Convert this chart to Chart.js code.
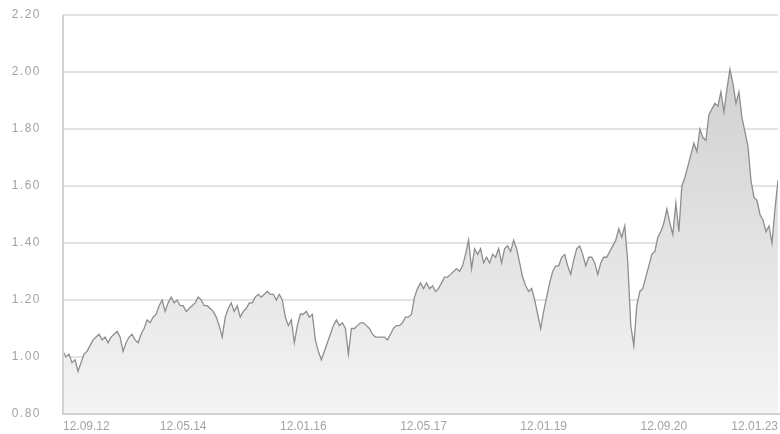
<!DOCTYPE html>
<html>
<head>
<meta charset="utf-8">
<title>Kursverlauf</title>
<script src="https://cdn.jsdelivr.net/npm/chart.js@4.4.1/dist/chart.umd.min.js"></script>
<style>
  html, body { margin: 0; padding: 0; background: #ffffff; overflow: hidden; }
  #wrap { width: 780px; height: 434px; }
</style>
</head>
<body>
<div id="wrap"><canvas id="chart" width="780" height="434"></canvas></div>
<script>
// Closing values, one per session step
const closes = [
  1.02, 1.00, 1.01, 0.98, 0.99, 0.95, 0.98, 1.01, 1.02, 1.04,
  1.06, 1.07, 1.08, 1.06, 1.07, 1.05, 1.07, 1.08, 1.09, 1.07,
  1.02, 1.05, 1.07, 1.08, 1.06, 1.05, 1.08, 1.10, 1.13, 1.12,
  1.14, 1.15, 1.18, 1.20, 1.16, 1.19, 1.21, 1.19, 1.20, 1.18,
  1.18, 1.16, 1.17, 1.18, 1.19, 1.21, 1.20, 1.18, 1.18, 1.17,
  1.16, 1.14, 1.11, 1.07, 1.14, 1.17, 1.19, 1.16, 1.18, 1.14,
  1.16, 1.17, 1.19, 1.19, 1.21, 1.22, 1.21, 1.22, 1.23, 1.22,
  1.22, 1.20, 1.22, 1.20, 1.14, 1.11, 1.13, 1.05, 1.11, 1.15,
  1.15, 1.16, 1.14, 1.15, 1.06, 1.02, 0.99, 1.02, 1.05, 1.08,
  1.11, 1.13, 1.11, 1.12, 1.10, 1.01, 1.10, 1.10, 1.11, 1.12,
  1.12, 1.11, 1.10, 1.08, 1.07, 1.07, 1.07, 1.07, 1.06, 1.08,
  1.10, 1.11, 1.11, 1.12, 1.14, 1.14, 1.15, 1.21, 1.24, 1.26,
  1.24, 1.26, 1.24, 1.25, 1.23, 1.24, 1.26, 1.28, 1.28, 1.29,
  1.30, 1.31, 1.30, 1.32, 1.36, 1.41, 1.31, 1.38, 1.36, 1.38,
  1.33, 1.35, 1.33, 1.36, 1.35, 1.38, 1.33, 1.38, 1.39, 1.37,
  1.41, 1.38, 1.33, 1.28, 1.25, 1.23, 1.24, 1.20, 1.15, 1.10,
  1.16, 1.21, 1.26, 1.30, 1.32, 1.32, 1.35, 1.36, 1.32, 1.29,
  1.34, 1.38, 1.39, 1.36, 1.32, 1.35, 1.35, 1.33, 1.29, 1.33,
  1.35, 1.35, 1.37, 1.39, 1.41, 1.45, 1.42, 1.46, 1.33, 1.11,
  1.04, 1.18, 1.23, 1.24, 1.28, 1.32, 1.36, 1.37, 1.42, 1.44,
  1.47, 1.52, 1.47, 1.43, 1.54, 1.44, 1.60, 1.63, 1.67, 1.71,
  1.75, 1.72, 1.80, 1.77, 1.76, 1.85, 1.87, 1.89, 1.88, 1.93,
  1.86, 1.94, 2.01, 1.96, 1.89, 1.93, 1.84, 1.79, 1.74, 1.62,
  1.56, 1.55, 1.50, 1.48, 1.44, 1.46, 1.40, 1.52, 1.62
];

// Date labels and the sessions they sit on
const tickLabels = ['12.09.12', '12.05.14', '12.01.16', '12.05.17', '12.01.19', '12.09.20', '12.01.23'];
const tickSessions = [0, 40, 80, 120, 160, 200, 238];

// Value axis ticks
const valueTicks = [0.80, 1.00, 1.20, 1.40, 1.60, 1.80, 2.00, 2.20];

const labelFont = { family: "'Liberation Sans', Arial, sans-serif", size: 12 };
const labelColor = '#a3a3a3';

// Axis lines drawn on top of the filled area
const axisLines = {
  id: 'axisLines',
  afterDatasetsDraw(chart) {
    const { ctx, chartArea: { left, right, top, bottom } } = chart;
    ctx.save();
    ctx.strokeStyle = '#d2d2d2';
    ctx.lineWidth = 2;
    ctx.beginPath();
    ctx.moveTo(left, top);
    ctx.lineTo(left, bottom);
    ctx.lineTo(right + 2, bottom);
    ctx.stroke();
    ctx.restore();
  }
};

function areaGradient(context) {
  const area = context.chart.chartArea;
  if (!area) return '#e4e4e4';
  const g = context.chart.ctx.createLinearGradient(0, area.top, 0, area.bottom);
  g.addColorStop(0, '#cbcbcb');
  g.addColorStop(1, '#f4f4f4');
  return g;
}

new Chart(document.getElementById('chart'), {
  type: 'line',
  data: {
    datasets: [{
      data: closes.map((v, i) => ({ x: i, y: v })),
      borderColor: '#8e8e8e',
      borderWidth: 1.3,
      backgroundColor: areaGradient,
      fill: 'start',
      pointRadius: 0,
      tension: 0
    }]
  },
  plugins: [axisLines],
  options: {
    responsive: false,
    devicePixelRatio: 1,
    animation: false,
    layout: { autoPadding: false, padding: { top: 15, right: 2, left: 0, bottom: 0 } },
    plugins: { legend: { display: false }, tooltip: { enabled: false } },
    scales: {
      x: {
        type: 'linear',
        min: 0,
        max: closes.length - 1,
        afterFit(scale) {
          scale.height = 20;
          scale.paddingLeft = 0;
          scale.paddingRight = 0;
        },
        afterBuildTicks(scale) { scale.ticks = tickSessions.map(v => ({ value: v })); },
        grid: { display: false, drawTicks: false },
        border: { display: false },
        ticks: {
          autoSkip: false,
          maxRotation: 0,
          align: 'inner',
          padding: 5,
          font: labelFont,
          color: labelColor,
          callback(value) {
            const k = tickSessions.indexOf(value);
            return k >= 0 ? tickLabels[k] : '';
          }
        }
      },
      y: {
        min: 0.8,
        max: 2.2,
        afterFit(scale) {
          scale.width = 63;
          scale.paddingTop = 7;
          scale.paddingBottom = 7;
        },
        afterUpdate(scale) {
          // slightly spaced value labels
          if (!scale._spacedLabels) {
            const drawLabels = scale.drawLabels.bind(scale);
            scale.drawLabels = function (area) {
              const ctx = this.ctx;
              const prev = ctx.letterSpacing;
              ctx.letterSpacing = '1.5px';
              drawLabels(area);
              ctx.letterSpacing = prev;
            };
            scale._spacedLabels = true;
          }
        },
        afterBuildTicks(scale) { scale.ticks = valueTicks.map(v => ({ value: v })); },
        grid: { color: '#e3e3e3', lineWidth: 2, drawTicks: false },
        border: { display: false },
        ticks: {
          padding: 22,
          font: labelFont,
          color: labelColor,
          callback(value) { return Number(value).toFixed(2); }
        }
      }
    }
  }
});
</script>
</body>
</html>
